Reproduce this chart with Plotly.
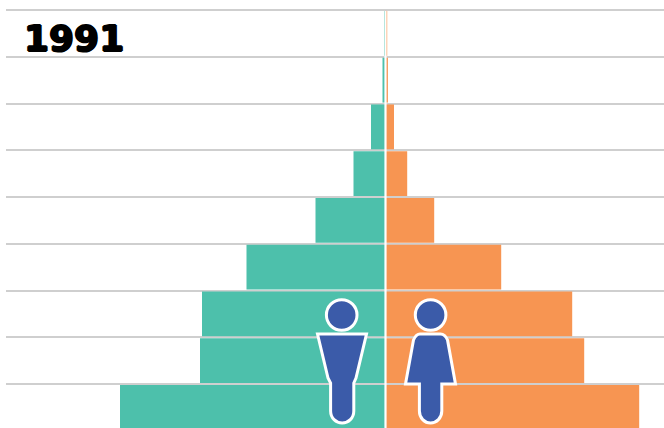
import plotly.graph_objects as go

# Population pyramid, 1991: one band per age group, youngest at the bottom
age_bands = [0, 1, 2, 3, 4, 5, 6, 7, 8]
men = [265.5, 185.5, 183.5, 139, 70, 32, 14.5, 3, 0.8]
women = [253.7, 198.7, 186.7, 115.7, 48.7, 21.7, 8.5, 2.4, 1.7]
year_label = "1991"

TEAL = "#4dc0ab"
ORANGE = "#f79552"
ICON = "#3b5ba9"
GRID = "#cfcfcf"
W, H = 664, 428
BAND = 46.75


def px(x):
    return x / W


def py(y):
    return 1 - y / H


def path(points):
    """Build an SVG path in paper space from (command, x, y, ...) tuples."""
    parts = []
    for item in points:
        cmd, coords = item[0], item[1:]
        pairs = [f"{px(coords[i]):.5f},{py(coords[i + 1]):.5f}" for i in range(0, len(coords), 2)]
        parts.append(cmd + " ".join(pairs))
    return " ".join(parts) + " Z"


def head(cx, cy, r):
    return dict(type="circle", xref="paper", yref="paper",
                x0=px(cx - r), x1=px(cx + r), y0=py(cy + r), y1=py(cy - r),
                fillcolor=ICON, line=dict(color="white", width=3), layer="above")


def body(points):
    return dict(type="path", xref="paper", yref="paper", path=path(points),
                fillcolor=ICON, line=dict(color="white", width=3), layer="above")


male_figure = [
    ("M", 317.5, 334), ("L", 366.5, 334), ("L", 356, 378), ("L", 353.8, 383),
    ("L", 353.8, 411), ("C", 353.8, 418, 348.5, 423, 342.2, 423),
    ("C", 336, 423, 330.6, 418, 330.6, 411), ("L", 330.6, 383), ("L", 328, 378),
]
female_figure = [
    ("M", 420, 334), ("L", 440.5, 334), ("C", 444, 334, 446, 336.5, 447.5, 340),
    ("L", 455.5, 384), ("L", 441.8, 384), ("L", 441.8, 411),
    ("C", 441.8, 418, 436.5, 423, 430.6, 423),
    ("C", 424.5, 423, 419.4, 418, 419.4, 411), ("L", 419.4, 384),
    ("L", 405.5, 384), ("L", 413.5, 340), ("C", 415, 336.5, 417, 334, 420, 334),
]

fig = go.Figure()
fig.add_bar(y=age_bands, x=[-v for v in men], orientation="h", marker=dict(color=TEAL, line_width=0), name="Men")
fig.add_bar(y=age_bands, x=women, orientation="h", marker=dict(color=ORANGE, line_width=0), name="Women")

fig.update_layout(
    width=W, height=H,
    margin=dict(l=0, r=0, t=0, b=0),
    paper_bgcolor="white", plot_bgcolor="white",
    barmode="overlay", bargap=0.04, showlegend=False,
    xaxis=dict(domain=[6 / W, 1], range=[-379.5, 278.5], showgrid=False,
               zeroline=False, showticklabels=False, ticks=""),
    yaxis=dict(range=[0.5 - 44 / BAND, 0.5 + 384 / BAND], tick0=0.5, dtick=1,
               showgrid=True, gridcolor=GRID, gridwidth=2,
               zeroline=False, showticklabels=False, ticks=""),
    shapes=[
        dict(type="line", xref="x", yref="paper", x0=0, x1=0, y0=0, y1=py(11),
             line=dict(color="white", width=2.2), layer="above"),
        head(341.7, 315, 15.3), body(male_figure),
        head(430.6, 315, 15.3), body(female_figure),
    ],
    annotations=[
        dict(text=f"<b>{year_label}</b>", xref="paper", yref="paper",
             x=px(74), y=py(38.5), xanchor="center", yanchor="middle", showarrow=False,
             font=dict(family="DejaVu Sans", size=36, color="black",
                       shadow="1px 0 0 black, -1px 0 0 black, 0 1px 0 black, 0 -1px 0 black")),
    ],
)

fig.write_html("out.html")
